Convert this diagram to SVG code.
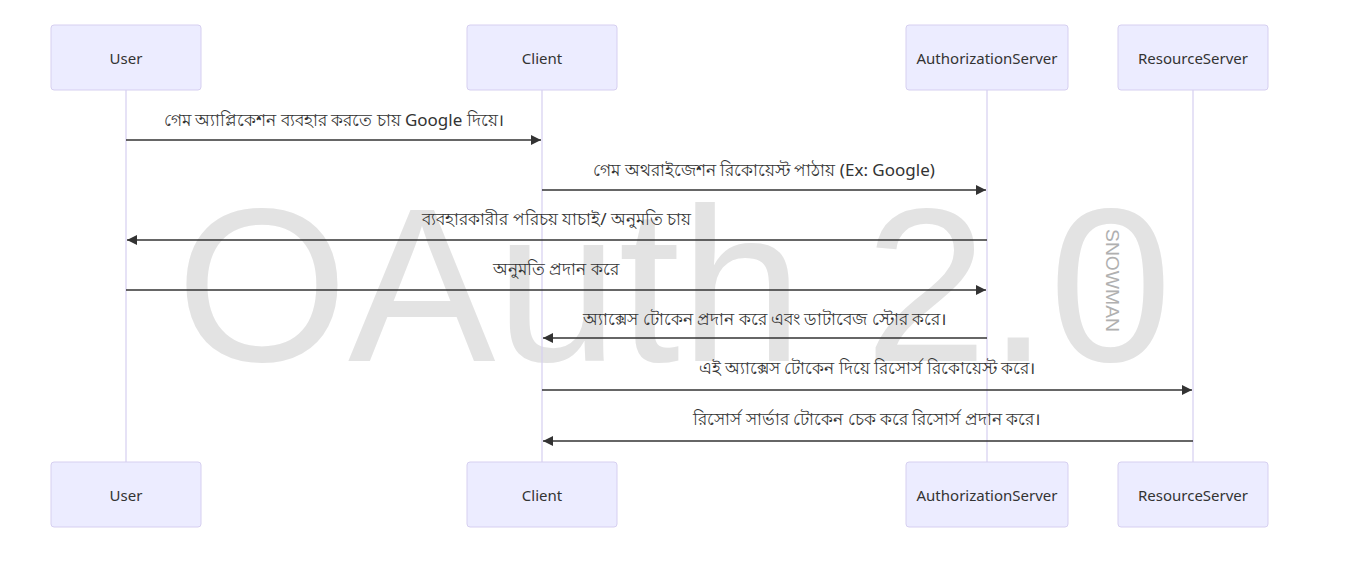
<svg xmlns="http://www.w3.org/2000/svg" width="1349" height="563" viewBox="0 0 1349 563">
<style>
.actor rect{fill:#ececff;stroke:#d6cff0;stroke-width:1}
.actor text{font-family:"Noto Sans","Liberation Sans",sans-serif;font-size:15px;fill:#333;text-anchor:middle;dominant-baseline:central}
.life{stroke:#d6cff0;stroke-width:1.2}
.msg{stroke:#333;stroke-width:1.6;fill:none}
.lbl{font-family:"Noto Sans","Liberation Sans",sans-serif;font-size:17px;fill:#333;text-anchor:middle;dominant-baseline:central}
</style>
<defs>
<marker id="ah" viewBox="0 0 10 10" refX="10" refY="5" markerWidth="10" markerHeight="10" markerUnits="userSpaceOnUse" orient="auto">
<path d="M0,0 L10,5 L0,10 z" fill="#333"/>
</marker>
</defs>
<rect width="1349" height="563" fill="#fff"/>
<g id="watermark">
<text x="176" y="361" font-family="Liberation Sans, sans-serif" font-size="219" fill="#e3e3e3" textLength="996" lengthAdjust="spacingAndGlyphs">OAuth 2.0</text>
<text transform="translate(1106,229) rotate(90)" font-family="Liberation Sans, sans-serif" font-size="18" fill="#b0b0b0" textLength="103" lengthAdjust="spacingAndGlyphs">SNOWMAN</text>
</g>
<g id="lifelines">
<line class="life" x1="126" y1="90" x2="126" y2="462"/>
<line class="life" x1="542" y1="90" x2="542" y2="462"/>
<line class="life" x1="987" y1="90" x2="987" y2="462"/>
<line class="life" x1="1193" y1="90" x2="1193" y2="462"/>
</g>
<g id="User" class="actor">
<rect x="51" y="25" width="150" height="65" rx="3"/><text x="126" y="58">User</text>
<rect x="51" y="462" width="150" height="65" rx="3"/><text x="126" y="495">User</text>
</g>
<g id="Client" class="actor">
<rect x="467" y="25" width="150" height="65" rx="3"/><text x="542" y="58">Client</text>
<rect x="467" y="462" width="150" height="65" rx="3"/><text x="542" y="495">Client</text>
</g>
<g id="AuthorizationServer" class="actor">
<rect x="906" y="25" width="162" height="65" rx="3"/><text x="987" y="58">AuthorizationServer</text>
<rect x="906" y="462" width="162" height="65" rx="3"/><text x="987" y="495">AuthorizationServer</text>
</g>
<g id="ResourceServer" class="actor">
<rect x="1118" y="25" width="150" height="65" rx="3"/><text x="1193" y="58">ResourceServer</text>
<rect x="1118" y="462" width="150" height="65" rx="3"/><text x="1193" y="495">ResourceServer</text>
</g>
<g id="connectors">
<line class="msg" x1="126" y1="140" x2="541" y2="140" marker-end="url(#ah)"/>
<text class="lbl" x="334" y="119">গেম অ্যাপ্লিকেশন ব্যবহার করতে চায় Google দিয়ে।</text>
<line class="msg" x1="542" y1="190" x2="986" y2="190" marker-end="url(#ah)"/>
<text class="lbl" x="764" y="169">গেম অথরাইজেশন রিকোয়েস্ট পাঠায় (Ex: Google)</text>
<line class="msg" x1="987" y1="240" x2="127" y2="240" marker-end="url(#ah)"/>
<text class="lbl" x="557" y="218">ব্যবহারকারীর পরিচয় যাচাই/ অনুমতি চায়</text>
<line class="msg" x1="126" y1="290" x2="986" y2="290" marker-end="url(#ah)"/>
<text class="lbl" x="556" y="268">অনুমতি প্রদান করে</text>
<line class="msg" x1="987" y1="338" x2="543" y2="338" marker-end="url(#ah)"/>
<text class="lbl" x="765" y="318">অ্যাক্সেস টোকেন প্রদান করে এবং ডাটাবেজ স্টোর করে।</text>
<line class="msg" x1="542" y1="390" x2="1192" y2="390" marker-end="url(#ah)"/>
<text class="lbl" x="867" y="367">এই অ্যাক্সেস টোকেন দিয়ে রিসোর্স রিকোয়েস্ট করে।</text>
<line class="msg" x1="1193" y1="441" x2="543" y2="441" marker-end="url(#ah)"/>
<text class="lbl" x="867" y="418">রিসোর্স সার্ভার টোকেন চেক করে রিসোর্স প্রদান করে।</text>
</g>
</svg>
